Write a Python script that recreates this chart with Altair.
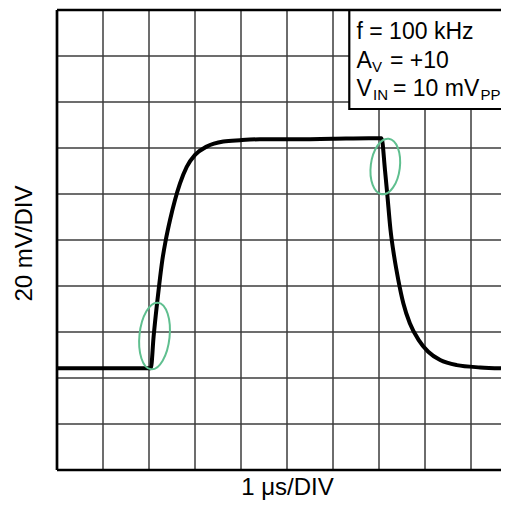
import altair as alt
import pandas as pd

# ---- data (x in 1 µs divisions, y in 20 mV divisions) ----
wave_x = [0.0, 1.0, 2.04, 2.10, 2.167, 2.217, 2.29, 2.362, 2.457, 2.565, 2.674,
          2.82, 3.0, 3.254, 3.616, 3.98, 4.41, 5.0, 6.0, 6.78, 7.055,
          7.13, 7.18, 7.25, 7.33, 7.42, 7.53, 7.67, 7.86, 8.07, 8.33, 8.69,
          9.2, 9.652]
wave_y = [2.21, 2.21, 2.21, 2.90, 3.55, 3.985, 4.565, 4.985, 5.435, 5.87, 6.23,
          6.59, 6.85, 7.03, 7.14, 7.17, 7.19, 7.19, 7.20, 7.21, 7.21,
          6.52, 5.99, 5.22, 4.64, 4.13, 3.62, 3.19, 2.83, 2.57, 2.39, 2.28,
          2.23, 2.21]

grid_x = [1, 2, 3, 4, 5, 6, 7, 8, 9]
grid_y = [1, 2, 3, 4, 5, 6, 7, 8, 9]

x_domain = [0, 9.652]
y_domain = [0, 10]

# highlight ellipses (centre in divisions)
ell1_x, ell1_y = [2.12], [2.913]
ell2_x, ell2_y = [7.137], [6.598]

# legend box (divisions)
box_x, box_x2, box_y, box_y2 = [6.354], [10.0], [7.848], [10.0]

# legend texts
main_text = ["f = 100 kHz", "A", "= +10", "V", "= 10 mV"]
main_x = [6.511, 6.511, 7.239, 6.511, 7.304]
main_y = [9.37, 8.739, 8.739, 8.13, 8.13]
sub_text = ["V", "IN", "PP"]
sub_x = [6.848, 6.870, 9.207]
sub_y = [8.739, 8.13, 8.13]

# axis titles (anchor in divisions)
x_title, x_title_pos = ["1 μs/DIV"], ([5.011], [-0.543])
y_title, y_title_pos = ["20 mV/DIV"], ([-0.696], [4.924])

FONT = "Liberation Sans"
GREEN = "#5fbf8f"

xs = alt.Scale(domain=x_domain, nice=False, zero=False)
ys = alt.Scale(domain=y_domain, nice=False, zero=False)


def X(f="x"):
    return alt.X(f + ":Q", scale=xs, axis=None)


def Y(f="y"):
    return alt.Y(f + ":Q", scale=ys, axis=None)


vgrid_df = pd.DataFrame({"x": grid_x, "y": [y_domain[0]] * len(grid_x),
                         "y2": [y_domain[1]] * len(grid_x)})
hgrid_df = pd.DataFrame({"y": grid_y, "x": [x_domain[0]] * len(grid_y),
                         "x2": [x_domain[1]] * len(grid_y)})
vgrid = alt.Chart(vgrid_df).mark_rule(color="#3c3c3c", strokeWidth=1.5).encode(
    x=X(), y=Y(), y2="y2:Q")
hgrid = alt.Chart(hgrid_df).mark_rule(color="#3c3c3c", strokeWidth=1.5).encode(
    y=Y(), x=X(), x2="x2:Q")

frame_df = pd.DataFrame({"x": [x_domain[0], x_domain[0], x_domain[0]],
                         "x2": [x_domain[0], x_domain[1], x_domain[1]],
                         "y": [y_domain[0], y_domain[0], y_domain[1]],
                         "y2": [y_domain[1], y_domain[0], y_domain[1]]})
frame = alt.Chart(frame_df).mark_rule(color="black", strokeWidth=2.7).encode(
    x=X(), x2="x2:Q", y=Y(), y2="y2:Q")

box_df = pd.DataFrame({"x": box_x, "x2": box_x2, "y": box_y, "y2": box_y2})
box = alt.Chart(box_df).mark_rect(fill="white", stroke="black", strokeWidth=2.2).encode(
    x=X(), x2="x2:Q", y=Y(), y2="y2:Q")

wave_df = pd.DataFrame({"x": wave_x, "y": wave_y})
wave = alt.Chart(wave_df).mark_line(color="black", strokeWidth=4,
                                    interpolate="monotone").encode(x=X(), y=Y())

ell_path1 = "M -0.45 0 A 0.45 1 0 1 0 0.45 0 A 0.45 1 0 1 0 -0.45 0 Z"
ell_path2 = "M -0.52 0 A 0.52 1 0 1 0 0.52 0 A 0.52 1 0 1 0 -0.52 0 Z"

e1 = alt.Chart(pd.DataFrame({"x": ell1_x, "y": ell1_y})).mark_point(
    shape=ell_path1, size=4489, angle=6, filled=False, stroke=GREEN,
    strokeWidth=2, opacity=1).encode(x=X(), y=Y())
e2 = alt.Chart(pd.DataFrame({"x": ell2_x, "y": ell2_y})).mark_point(
    shape=ell_path2, size=3136, angle=7, filled=False, stroke=GREEN,
    strokeWidth=2, opacity=1).encode(x=X(), y=Y())

main_df = pd.DataFrame({"t": main_text, "x": main_x, "y": main_y})
sub_df = pd.DataFrame({"t": sub_text, "x": sub_x, "y": sub_y})
main_lbl = alt.Chart(main_df).mark_text(align="left", baseline="alphabetic",
                                        font=FONT, fontSize=23, color="black").encode(
    x=X(), y=Y(), text="t:N")
sub_lbl = alt.Chart(sub_df).mark_text(align="left", baseline="alphabetic", dy=3.5,
                                      font=FONT, fontSize=15, color="black").encode(
    x=X(), y=Y(), text="t:N")

xt = alt.Chart(pd.DataFrame({"t": x_title, "x": x_title_pos[0], "y": x_title_pos[1]})).mark_text(
    align="center", baseline="alphabetic", font=FONT, fontSize=24, color="black").encode(
    x=X(), y=Y(), text="t:N")
yt = alt.Chart(pd.DataFrame({"t": y_title, "x": y_title_pos[0], "y": y_title_pos[1]})).mark_text(
    align="center", baseline="middle", angle=270, font=FONT, fontSize=24, color="black").encode(
    x=X(), y=Y(), text="t:N")

chart = alt.layer(vgrid, hgrid, box, frame, wave, e1, e2, main_lbl, sub_lbl, xt, yt).properties(
    width=444, height=460,
    autosize=alt.AutoSizeParams(type="none"),
    padding={"left": 49, "top": 2, "right": 0, "bottom": 30},
).configure(background="white").configure_view(stroke=None)

chart.save("out.html", embed_options={"renderer": "svg", "actions": False})
